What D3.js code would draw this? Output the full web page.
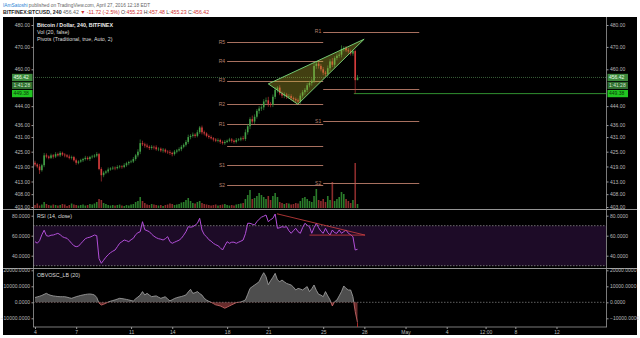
<!DOCTYPE html>
<html>
<head>
<meta charset="utf-8">
<script src="https://cdn.jsdelivr.net/npm/d3@7"></script>
<style>
  body { margin: 0; background: #fff; }
  text { font-family: "Liberation Sans", Arial, sans-serif; }
</style>
</head>
<body>
<script>
var width = 640, height = 338;

// ---- data (4h bars from Apr 4) ----
var firstOpen = 420.5;
var closes = [
  419.8,419,417.5,419.5,423.5,423,422.5,423.5,423,424,
  423.5,424.5,423.8,423.5,423,422.5,422.8,421.5,420.5,421,
  421.5,422,422.5,422,422.8,423,423.4,424,418,415.5,
  416.5,417,417.8,418.2,418.5,418.3,418.8,419,418.8,419.5,
  420.3,420.8,421,422,423.5,425,428.5,428,427.5,427,
  426.5,427,426.8,426,426.2,425.5,425.8,425,424.8,424.5,
  424,425,425.5,426,427,427.8,429,431,431.5,432,
  431.5,433,435,433,432.5,431.5,431,430.5,430,429.5,
  429.8,429,428.5,429,429.5,430,429.5,429,429.8,430,
  430.5,430.2,433,435.5,438.5,437.5,439.5,442,443,443.5,
  446,446.5,445,444.5,448,451,452,449.5,448.5,449,
  448,448.3,447.5,447,446.5,446,448.5,450,451,453,
  454,455,461.5,462.5,461.5,460,458.5,458,460.5,463.5,
  462,465,466,466.5,469,469.5,468.5,468,467,468.14,
  455.23,456.42
];
var hiExt = [
  0.8,0.5,1,0.6,1,0.8,0.5,0.7,0.5,0.8,
  0.6,0.7,0.5,0.6,0.5,0.8,0.6,0.5,0.7,0.5,
  0.6,0.5,0.8,0.6,0.5,0.7,0.6,0.8,0.5,0.7,
  0.6,0.5,0.8,0.5,0.6,0.5,0.7,0.6,0.5,0.8,
  0.6,0.5,0.7,0.8,0.6,1,1.5,1,0.7,0.8,
  0.6,0.7,0.5,0.8,0.6,0.5,0.7,0.5,0.6,0.8,
  0.5,0.7,0.6,0.8,0.7,0.6,0.8,1,0.7,0.9,
  0.6,1,0.6,0.8,0.7,0.5,0.6,0.7,0.5,0.6,
  0.7,0.5,0.6,0.8,0.5,0.7,0.6,0.5,0.8,0.6,
  0.7,1,1.2,1,0.8,1.5,1,0.8,1,0.9,
  1,1.2,1.5,0.8,1,1.2,0.6,1,0.8,1,
  0.7,0.9,0.8,0.6,0.7,0.8,1,0.9,0.8,1,
  0.9,1,1.2,1,0.8,0.9,1,0.8,1.2,1,
  1.5,0.8,1,1.2,1.7,0.8,0.9,1,0.8,0.6,
  0.7,1.06
];
var loExt = [
  0.8,0.7,1.5,0.6,0.8,0.7,0.6,0.5,0.8,0.6,
  0.5,0.7,0.6,0.8,0.5,0.6,0.7,0.5,0.8,0.6,
  0.5,0.7,0.6,0.5,0.8,0.6,0.5,0.7,0.5,2.5,
  0.8,0.6,0.7,0.5,0.6,0.8,0.5,0.6,0.7,0.5,
  0.6,0.8,0.5,0.6,0.7,0.8,1,0.7,0.9,0.6,
  0.8,0.7,0.9,0.6,0.8,0.7,0.9,0.6,0.7,0.8,
  0.9,0.6,0.7,0.5,0.8,0.6,0.7,0.8,0.9,0.7,
  0.8,0.6,0.7,0.9,0.8,0.6,0.7,0.5,0.8,0.6,
  0.7,0.8,0.6,0.7,0.5,0.6,0.8,0.7,0.6,0.5,
  0.7,0.6,0.8,1,1.2,0.9,1,0.8,1.2,1,
  1.2,1,1.3,1,0.9,1,1.2,0.8,1,1.1,
  0.9,0.8,1,0.9,1,0.8,1,0.9,1.1,1,
  0.9,1.2,1,1.3,1.2,0.9,1.1,1,1.2,1.3,
  1,1.2,1,0.9,1.2,1,0.8,1,0.9,1,
  5.85,0
];
var vols = [
  300,450,250,350,600,400,300,250,350,300,
  250,300,400,350,200,300,450,350,300,250,
  300,350,250,300,400,350,450,600,900,800,
  500,400,300,250,300,250,300,350,250,200,
  300,250,350,400,600,700,1100,700,500,350,
  300,400,350,300,250,300,200,300,350,450,
  400,300,350,400,550,600,800,1000,700,500,
  450,600,700,500,400,350,300,250,300,350,
  250,300,350,400,300,250,300,250,350,400,
  450,500,900,1300,1800,900,1000,1200,1500,1300,
  1100,900,1200,800,1200,1500,1100,600,500,400,
  500,450,350,400,500,450,700,1000,1100,900,
  700,600,1200,1900,800,700,900,600,1200,800,
  2600,700,900,1100,1600,1400,900,700,500,800,
  4500,400
];
var rsi = [
  54,52.5,55,61,65.5,60,59.5,60.5,60.7,61.5,
  62.4,61,59,58,57.4,55,52.4,50,49,49.5,
  52,54.5,57,58,58.5,59.5,60.7,60,37,32.4,
  35.5,38.5,41,43,44.5,45.7,49,52.4,54,55.7,
  55,54,56,57.4,61,63,64,74,66,65,
  64,61.5,59.5,58,57,56.5,55.7,57,59,54,
  52.4,53.5,54.5,55.5,57.4,60.5,64,69,68.5,69,
  70.5,72.4,77.4,65.7,61,59,56,54.5,52.4,51,
  50,48,45.7,50,54,52.4,53.5,53.5,52.4,53.5,
  54.5,55.7,62,72.4,72.4,71.5,70.7,74,76.5,78.5,
  79.5,80.7,74,76,77.4,81.7,67.4,68,69,68.5,
  69,65,62.4,65,67.4,64,62.4,68,72.4,70.5,
  69,62.4,68,72.4,68,64.5,62.4,67.4,63,60.7,
  65.7,63,62.4,65.7,62.4,64,65.7,62.4,61,59,
  45.7,46.4
];
var obv = [
  3000,3400,3800,4300,5000,5600,4800,4300,4000,3800,
  3600,3500,3500,3500,3200,2800,2500,3000,3500,3900,
  4300,4600,4900,5100,5200,5000,4600,3000,-500,-1700,
  -1200,-600,200,700,1100,1500,2000,2500,2300,2100,
  1800,1500,1100,800,2200,3300,4500,6700,4600,5600,
  4500,3500,3800,4000,3200,2500,3000,3500,2000,900,
  1600,2400,2900,3300,3600,4100,4600,6500,8100,5600,
  6000,6700,5500,4500,2500,1400,600,0,-800,-1600,
  -1900,-2300,-3000,-3700,-3000,-2300,-1600,-900,-200,0,
  200,800,1500,5000,8700,9800,10800,11800,12900,16000,
  18500,16000,11000,13500,15600,18100,14000,12900,13900,12800,
  11800,11300,10800,9500,7700,8700,8300,7700,8800,9800,
  6700,8500,10800,7500,5000,4500,3500,6700,4000,1500,
  -2300,400,1400,4000,6700,10200,8700,7700,7700,3500,
  -5800,-12700
];

// pivots: [label, value]; start/end in bar index
var pivotsPrev = [["R5",472],["R4",463.5],["R3",455],["R2",444.8],["R1",436.4],["",427.3],["S1",419.4],["S2",411.5]];
var pivotsCur = [["R1",477],["",451.4],["S1",437.6],["S2",412.5]];
var pivotSpans = [[84,126],[126,168]];

// wedge vertices [bar index, price]
var wedge = [[102,453.6],[114.9,444.8],[143.9,473.5]];
// RSI trend lines [bar index, rsi]
var rsiLines = [[[105.8,81.9],[144.3,60.6]],[[120,60.6],[144.3,60.6]]];

var priceTicks = [480,470,460,444,436,431,425,419,413,408,403];
var rsiTicks = [80,60,40];
var obvTicks = [20000,10000,0,-10000];
var xTickIdx = [0,18,42,60,84,102,126,144,162,180,197,210,228];
var xTickLbl = ["4","7","11","14","18","21","25","28","May","4","12:00","8","12"];

var lastPrice = 456.42, lowLine = 449.38, countdown = "1:41:28";

// ---- layout ----
var L = 33, R = 606;
var x = d3.scaleLinear().domain([0, 141]).range([35, 357.5]);
var y = d3.scaleLog().domain([403, 480]).range([207, 25]);
var yVol = d3.scaleLinear().domain([0, 4600]).range([208, 162]);
var yRsi = d3.scaleLinear().domain([30, 80]).range([265.7, 215.7]);
var yObv = d3.scaleLinear().domain([-10000, 20000]).range([318.3, 270.3]);

var upC = "#43a047", dnC = "#d43c3c";

var svg = d3.select("body").append("svg")
  .attr("width", width).attr("height", height).style("display", "block");

svg.append("rect").attr("width", width).attr("height", height).attr("fill", "#fff");
svg.append("rect").attr("x", 3).attr("y", 17).attr("width", 634).attr("height", 318).attr("fill", "#000");

// header
var h1 = svg.append("text").attr("x", 3).attr("y", 7).attr("font-size", 4.8);
h1.append("tspan").attr("fill", "#2a7fd4").text("IAmSatoshi");
h1.append("tspan").attr("fill", "#666").text(" published on TradingView.com, April 27, 2016 12:18 EDT");
var h2 = svg.append("text").attr("x", 3).attr("y", 14).attr("font-size", 5.2);
h2.append("tspan").attr("fill", "#222").attr("font-weight", "bold").text("BITFINEX:BTCUSD, 240 ");
h2.append("tspan").attr("fill", "#666").text("456.42 ");
h2.append("tspan").attr("fill", "#d03030").text("\u25BC -11.72 (-2.5%) ");
[["O:", "455.23"], ["H:", "457.48"], ["L:", "455.23"], ["C:", "456.42"]].forEach(function (p) {
  h2.append("tspan").attr("fill", "#444").text(p[0]);
  h2.append("tspan").attr("fill", "#d03030").text(p[1] + " ");
});

// clip for main panes
svg.append("clipPath").attr("id", "cMain").append("rect").attr("x", L).attr("y", 17).attr("width", R - L).attr("height", 192);
svg.append("clipPath").attr("id", "cObvUp").append("rect").attr("x", L).attr("y", 269).attr("width", R - L).attr("height", yObv(0) - 269);
svg.append("clipPath").attr("id", "cObvDn").append("rect").attr("x", L).attr("y", yObv(0)).attr("width", R - L).attr("height", 327 - yObv(0));

var main = svg.append("g").attr("clip-path", "url(#cMain)");

var bars = closes.map(function (c, i) {
  var o = i === 0 ? firstOpen : closes[i - 1];
  return { i: i, o: o, c: c, h: Math.max(o, c) + hiExt[i], l: Math.min(o, c) - loExt[i], v: vols[i] };
});

// volume
main.selectAll("rect.vol").data(bars).enter().append("rect")
  .attr("x", function (d) { return x(d.i) - 0.8; })
  .attr("width", 1.6)
  .attr("y", function (d) { return yVol(d.v); })
  .attr("height", function (d) { return yVol(0) - yVol(d.v); })
  .attr("fill", function (d) { return d.c >= d.o ? "#2b7d2b" : "#8b2c2c"; });

// pivot lines
[pivotsPrev, pivotsCur].forEach(function (set, k) {
  var s = pivotSpans[k];
  set.forEach(function (p) {
    main.append("line")
      .attr("x1", x(s[0])).attr("x2", x(s[1]))
      .attr("y1", Math.round(y(p[1])) + 0.5).attr("y2", Math.round(y(p[1])) + 0.5)
      .attr("stroke", "#a8705f").attr("stroke-width", 1);
    main.append("text")
      .attr("x", x(s[0]) - 2).attr("y", y(p[1]) + 1.8)
      .attr("text-anchor", "end").attr("font-size", 5).attr("fill", "#b8806f")
      .text(p[0]);
  });
});

// last price line + low line
main.append("line").attr("x1", L).attr("x2", R)
  .attr("y1", y(lastPrice)).attr("y2", y(lastPrice))
  .attr("stroke", "#4a7a4a").attr("stroke-width", 0.8).attr("stroke-dasharray", "1,1");
main.append("line").attr("x1", x(139.4)).attr("x2", R)
  .attr("y1", y(lowLine)).attr("y2", y(lowLine))
  .attr("stroke", "#3cb43c").attr("stroke-width", 0.8);

// candles
var cg = main.selectAll("g.candle").data(bars).enter().append("g");
cg.append("line")
  .attr("x1", function (d) { return x(d.i); }).attr("x2", function (d) { return x(d.i); })
  .attr("y1", function (d) { return y(d.h); }).attr("y2", function (d) { return y(d.l); })
  .attr("stroke", function (d) { return d.c >= d.o ? upC : dnC; }).attr("stroke-width", 0.6);
cg.append("rect")
  .attr("x", function (d) { return x(d.i) - 0.8; })
  .attr("width", 1.6)
  .attr("y", function (d) { return y(Math.max(d.o, d.c)); })
  .attr("height", function (d) { return Math.max(0.6, Math.abs(y(d.o) - y(d.c))); })
  .attr("fill", function (d) { return d.c >= d.o ? upC : dnC; });

// wedge
main.append("path")
  .attr("d", d3.line().x(function (d) { return x(d[0]); }).y(function (d) { return y(d[1]); })(wedge) + "Z")
  .attr("fill", "rgba(190,180,50,0.35)").attr("stroke", "#7ddc7d").attr("stroke-width", 0.9);

// legend
var lg = svg.append("g").attr("font-size", 5.3).attr("fill", "#ddd");
lg.append("text").attr("x", 37).attr("y", 27).attr("font-weight", "bold").attr("fill", "#eee").text("Bitcoin / Dollar, 240, BITFINEX");
lg.append("text").attr("x", 37).attr("y", 34).text("Vol (20, false)");
lg.append("text").attr("x", 37).attr("y", 41).text("Pivots (Traditional, true, Auto, 2)");

// ---- RSI pane ----
svg.append("rect").attr("x", L).attr("y", yRsi(70)).attr("width", R - L).attr("height", yRsi(30) - yRsi(70)).attr("fill", "#1d0b27");
[70, 30].forEach(function (v) {
  svg.append("line").attr("x1", L).attr("x2", R).attr("y1", yRsi(v)).attr("y2", yRsi(v))
    .attr("stroke", "#999").attr("stroke-width", 0.7).attr("stroke-dasharray", "1.5,1.5");
});
svg.append("path").datum(rsi)
  .attr("d", d3.line().x(function (d, i) { return x(i); }).y(function (d) { return yRsi(d); }))
  .attr("fill", "none").attr("stroke", "#b24fd8").attr("stroke-width", 1);
rsiLines.forEach(function (ln) {
  svg.append("line")
    .attr("x1", x(ln[0][0])).attr("y1", yRsi(ln[0][1])).attr("x2", x(ln[1][0])).attr("y2", yRsi(ln[1][1]))
    .attr("stroke", "#d04040").attr("stroke-width", 0.8);
});
svg.append("text").attr("x", 37).attr("y", 218).attr("font-size", 5.3).attr("fill", "#ddd").text("RSI (14, close)");

// ---- OBV pane ----
svg.append("line").attr("x1", L).attr("x2", R).attr("y1", yObv(0)).attr("y2", yObv(0))
  .attr("stroke", "#888").attr("stroke-width", 0.7).attr("stroke-dasharray", "1.5,1.5");
var obvArea = d3.area().x(function (d, i) { return x(i); }).y0(yObv(0)).y1(function (d) { return yObv(d); });
var obvLine = d3.line().x(function (d, i) { return x(i); }).y(function (d) { return yObv(d); });
var og = svg.append("g").attr("clip-path", "url(#cObvUp)");
og.append("path").datum(obv).attr("d", obvArea).attr("fill", "rgba(130,130,130,0.6)");
og.append("path").datum(obv).attr("d", obvLine).attr("fill", "none").attr("stroke", "#a8a8a8").attr("stroke-width", 0.8);
var og2 = svg.append("g").attr("clip-path", "url(#cObvDn)");
og2.append("path").datum(obv).attr("d", obvArea).attr("fill", "rgba(190,80,80,0.55)");
og2.append("path").datum(obv).attr("d", obvLine).attr("fill", "none").attr("stroke", "#d56f6f").attr("stroke-width", 0.8);
svg.append("text").attr("x", 37).attr("y", 277).attr("font-size", 5.3).attr("fill", "#ddd").text("OBVOSC_LB (20)");

// ---- frame lines ----
[209.5, 268.5].forEach(function (yy) {
  svg.append("line").attr("x1", 3).attr("x2", 637).attr("y1", yy).attr("y2", yy).attr("stroke", "#bbb").attr("stroke-width", 0.8);
});
[L + 0.5, R + 0.5].forEach(function (xx) {
  svg.append("line").attr("x1", xx).attr("x2", xx).attr("y1", 17).attr("y2", 327).attr("stroke", "#999").attr("stroke-width", 0.8);
});
svg.append("line").attr("x1", L).attr("x2", R + 1).attr("y1", 327).attr("y2", 327).attr("stroke", "#999").attr("stroke-width", 0.8);

// ---- axes ----
function styleAxis(g) {
  g.select(".domain").remove();
  g.selectAll("line").attr("stroke", "#999");
  g.selectAll("text").attr("fill", "#bbb").attr("font-size", 5).attr("font-family", "Liberation Sans, Arial, sans-serif");
}
var f2 = d3.format(".2f"), f4 = d3.format(".4f");
svg.append("g").attr("transform", "translate(" + (L + 0.5) + ",0)")
  .call(d3.axisLeft(y).tickValues(priceTicks).tickFormat(f2).tickSize(2).tickPadding(1.5)).call(styleAxis);
svg.append("g").attr("transform", "translate(" + (R + 0.5) + ",0)")
  .call(d3.axisRight(y).tickValues(priceTicks).tickFormat(f2).tickSize(2).tickPadding(1.5)).call(styleAxis);
svg.append("g").attr("transform", "translate(" + (L + 0.5) + ",0)")
  .call(d3.axisLeft(yRsi).tickValues(rsiTicks).tickFormat(f4).tickSize(2).tickPadding(1.5)).call(styleAxis);
svg.append("g").attr("transform", "translate(" + (R + 0.5) + ",0)")
  .call(d3.axisRight(yRsi).tickValues(rsiTicks).tickFormat(f4).tickSize(2).tickPadding(1.5)).call(styleAxis);
svg.append("g").attr("transform", "translate(" + (L + 0.5) + ",0)")
  .call(d3.axisLeft(yObv).tickValues(obvTicks).tickFormat(f4).tickSize(2).tickPadding(1.5)).call(styleAxis);
svg.append("g").attr("transform", "translate(" + (R + 0.5) + ",0)")
  .call(d3.axisRight(yObv).tickValues(obvTicks).tickFormat(f4).tickSize(2).tickPadding(1.5)).call(styleAxis);
svg.append("g").attr("transform", "translate(0,327)")
  .call(d3.axisBottom(x).tickValues(xTickIdx).tickFormat(function (d, i) { return xTickLbl[i]; }).tickSize(2).tickPadding(1))
  .call(styleAxis);
// current bar marker on time axis
svg.append("line").attr("x1", x(141)).attr("x2", x(141)).attr("y1", 323).attr("y2", 327).attr("stroke", "#d03030").attr("stroke-width", 0.8);

// ---- price labels on both axes ----
var boxes = [
  { v: lastPrice, t: f2(lastPrice), dy: 0, fill: "#3d8a3d", tc: "#e8ffe8" },
  { v: lastPrice, t: countdown, dy: 8, fill: "#2f6e2f", tc: "#cfe8cf" },
  { v: lowLine, t: f2(lowLine), dy: 0, fill: "#21c621", tc: "#0a3a0a" }
];
[[12, "start"], [R + 1.5, "start"]].forEach(function (side) {
  boxes.forEach(function (b) {
    var cy = y(b.v) + b.dy;
    svg.append("rect").attr("x", side[0]).attr("y", cy - 3.6).attr("width", 20.5).attr("height", 7.2).attr("fill", b.fill);
    svg.append("text").attr("x", side[0] + 1.5).attr("y", cy + 1.8).attr("font-size", 5).attr("fill", b.tc).text(b.t);
  });
});
</script>
</body>
</html>
